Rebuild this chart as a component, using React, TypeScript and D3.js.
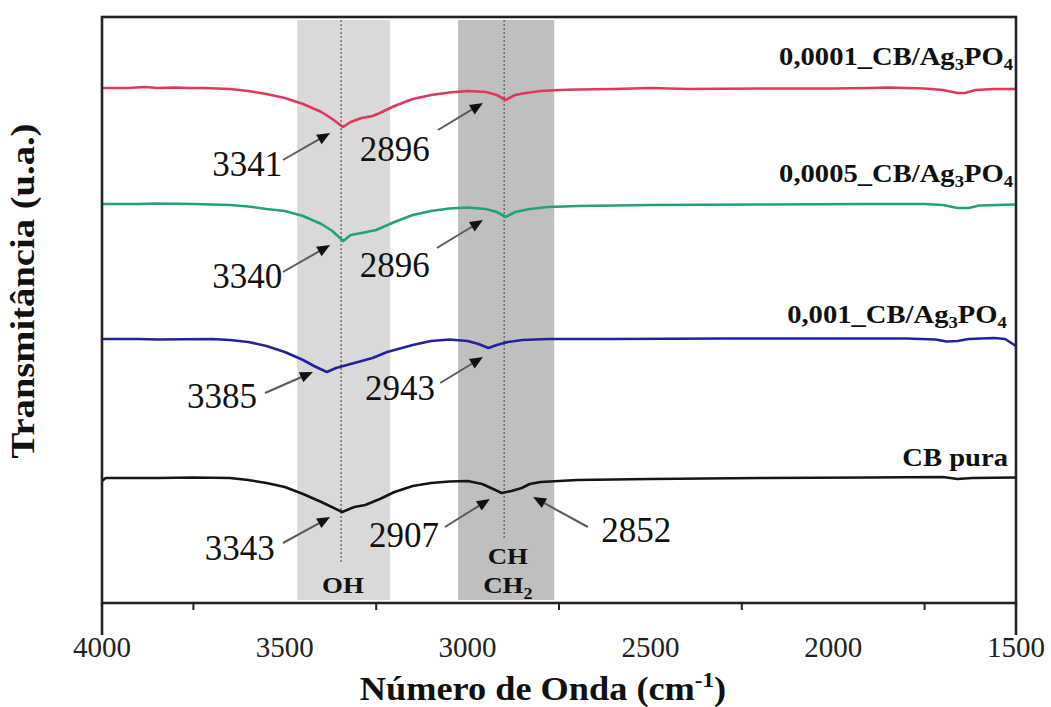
import React from "react";
import * as d3 from "d3";

// ---------- DATA ----------
const xTicksMajor = [4000, 3500, 3000, 2500, 2000, 1500];
const xTicksMinor = [3750, 3250, 2750, 2250, 1750];

// series: wavenumber (cm-1) / transmittance (a.u., offset stacked)
const s1Wn = [4000, 3930, 3880, 3850, 3800, 3760, 3720, 3650, 3600, 3550, 3500, 3450, 3400, 3370, 3341, 3320, 3290, 3260, 3240, 3200, 3150, 3100, 3050, 3000, 2950, 2920, 2896, 2870, 2840, 2800, 2750, 2700, 2600, 2500, 2400, 2200, 2000, 1900, 1850, 1750, 1700, 1660, 1640, 1610, 1560, 1500];
const s1T = [51.5, 51.5, 51.6, 51.5, 51.55, 51.5, 51.5, 51.4, 51.2, 50.9, 50.5, 49.9, 49.1, 48.4, 47.6, 48.1, 48.5, 48.7, 49.0, 49.7, 50.4, 50.8, 51.05, 51.2, 51.1, 50.8, 50.3, 50.8, 51.0, 51.2, 51.3, 51.35, 51.4, 51.5, 51.4, 51.45, 51.45, 51.5, 51.55, 51.45, 51.3, 51.0, 51.0, 51.3, 51.4, 51.4];

const s2Wn = [4000, 3900, 3850, 3750, 3650, 3600, 3550, 3500, 3450, 3400, 3370, 3340, 3320, 3290, 3250, 3200, 3150, 3100, 3050, 3000, 2950, 2920, 2896, 2870, 2830, 2780, 2700, 2500, 2200, 1900, 1750, 1700, 1660, 1630, 1600, 1500];
const s2T = [39.9, 39.9, 39.95, 39.9, 39.8, 39.65, 39.4, 39.2, 38.7, 37.9, 37.2, 36.2, 36.8, 37.0, 37.3, 38.1, 38.8, 39.2, 39.45, 39.55, 39.4, 39.1, 38.6, 39.1, 39.4, 39.6, 39.7, 39.8, 39.85, 39.9, 39.9, 39.8, 39.5, 39.5, 39.75, 39.85];

const s3Wn = [4000, 3900, 3850, 3700, 3650, 3600, 3550, 3500, 3450, 3420, 3385, 3360, 3340, 3300, 3260, 3220, 3150, 3100, 3050, 3000, 2970, 2943, 2920, 2890, 2850, 2780, 2600, 2300, 2000, 1800, 1720, 1690, 1660, 1630, 1560, 1530, 1500];
const s3T = [26.4, 26.4, 26.35, 26.4, 26.3, 26.1, 25.7, 25.1, 24.3, 23.7, 23.1, 23.5, 23.7, 24.1, 24.5, 25.1, 25.8, 26.2, 26.35, 26.2, 25.9, 25.5, 25.8, 26.1, 26.3, 26.4, 26.4, 26.45, 26.45, 26.45, 26.35, 26.15, 26.2, 26.4, 26.5, 26.4, 25.7];

const s4Wn = [4000, 3990, 3850, 3750, 3650, 3600, 3550, 3500, 3450, 3400, 3343, 3310, 3280, 3240, 3200, 3150, 3100, 3050, 3000, 2960, 2930, 2907, 2880, 2852, 2830, 2800, 2700, 2500, 2200, 1900, 1700, 1660, 1620, 1500];
const s4T = [12.2, 12.5, 12.5, 12.55, 12.5, 12.3, 12.0, 11.6, 10.9, 10.1, 9.1, 9.6, 9.8, 10.4, 11.1, 11.7, 12.0, 12.15, 12.2, 11.9, 11.4, 11.0, 11.2, 11.5, 11.9, 12.1, 12.3, 12.4, 12.5, 12.55, 12.6, 12.4, 12.5, 12.55];

const seriesNames = ["0,0001_CB/Ag", "0,0005_CB/Ag", "0,001_CB/Ag", "CB pura"];
const seriesColors = ["#e2375c", "#22a27a", "#22229f", "#151515"];
const seriesLabelWn = [1508, 1508, 1525, 1522];
const seriesLabelT = [53.8, 42.1, 28.0, 13.7];

// shaded bands
const bandNames = ["OH", "CH"];
const bandFrom = [3466, 3026];
const bandTo = [3212, 2763];
const bandColors = ["#d9d9d9", "#bfbfbf"];
const dotWn = [3346, 2900];
const dotEndT = [4.1, 6.3];

// peak annotations
const annText = ["3341", "2896", "3340", "2896", "3385", "2943", "3343", "2907", "2852"];
const annLabelWn = [3603, 3199, 3603, 3199, 3672, 3185, 3623, 3174, 2539];
const annLabelT = [43.9, 45.4, 32.7, 33.8, 20.7, 21.5, 5.5, 6.8, 7.3];
const annTailWn = [3505, 3081, 3505, 3084, 3554, 3075, 3505, 3062, 2671];
const annTailT = [44.3, 47.3, 33.1, 35.5, 21.0, 22.0, 6.0, 7.6, 7.6];
const annTipWn = [3376, 2958, 3376, 2958, 3423, 2958, 3376, 2939, 2821];
const annTipT = [47.0, 50.0, 35.8, 38.3, 23.1, 24.6, 8.6, 10.4, 10.6];

// ---------- CHART ----------
const W = 1051, H = 707;
const L = 102, R = 1016, T = 17, B = 603;
const SERIF = "Liberation Serif, Times New Roman, serif";

export default function App() {
  const x = d3.scaleLinear().domain([4000, 1500]).range([L, R]);
  const y = d3.scaleLinear().domain([0, 58.6]).range([B, T]);
  const line = d3.line<[number, number]>().x(d => x(d[0])).y(d => y(d[1])).curve(d3.curveLinear);

  const series = [
    { wn: s1Wn, t: s1T },
    { wn: s2Wn, t: s2T },
    { wn: s3Wn, t: s3T },
    { wn: s4Wn, t: s4T },
  ];

  const arrowHead = (i: number) => {
    const x1 = x(annTailWn[i]), y1 = y(annTailT[i]);
    const x2 = x(annTipWn[i]), y2 = y(annTipT[i]);
    const a = Math.atan2(y2 - y1, x2 - x1);
    const len = 13, hw = 5.5;
    const bx = x2 - len * Math.cos(a), by = y2 - len * Math.sin(a);
    const p1 = [bx + hw * Math.sin(a), by - hw * Math.cos(a)];
    const p2 = [bx - hw * Math.sin(a), by + hw * Math.cos(a)];
    return { x1, y1, bx, by, pts: `${x2},${y2} ${p1[0]},${p1[1]} ${p2[0]},${p2[1]}` };
  };

  const boldLbl = { fontFamily: SERIF, fontWeight: "bold" as const, fill: "#111" };

  return (
    <svg width={W} height={H} style={{ position: "absolute", left: 0, top: 0, background: "#fff" }}>
      {/* bands */}
      {bandNames.map((n, i) => (
        <rect key={n} x={x(bandFrom[i])} y={20} width={x(bandTo[i]) - x(bandFrom[i])} height={B - 3 - 20} fill={bandColors[i]} />
      ))}
      {/* dotted guide lines */}
      {dotWn.map((w, i) => (
        <line key={i} x1={x(w)} x2={x(w)} y1={20} y2={y(dotEndT[i])} stroke="#555" strokeWidth={1.2} strokeDasharray="2,2" />
      ))}
      {/* band labels */}
      <g transform={`translate(${x(3341)},${y(1.0)}) scale(1.12,1)`}>
        <text textAnchor="middle" fontSize={24} {...boldLbl}>OH</text>
      </g>
      <g transform={`translate(${x(2890)},${y(3.9)}) scale(1.12,1)`}>
        <text textAnchor="middle" fontSize={24} {...boldLbl}>CH</text>
      </g>
      <g transform={`translate(${x(2890)},${y(1.0)}) scale(1.12,1)`}>
        <text textAnchor="middle" fontSize={24} {...boldLbl}>
          CH<tspan fontSize={16} dy={6}>2</tspan>
        </text>
      </g>

      {/* series */}
      {series.map((s, i) => (
        <path key={i} d={line(s.wn.map((w, j) => [w, s.t[j]] as [number, number])) || ""} fill="none" stroke={seriesColors[i]} strokeWidth={2.6} strokeLinejoin="round" />
      ))}

      {/* series labels */}
      {seriesNames.map((n, i) => (
        <g key={n} transform={`translate(${x(seriesLabelWn[i])},${y(seriesLabelT[i])}) scale(1.1,1)`}>
          <text textAnchor="end" fontSize={26} {...boldLbl}>
            {i < 3 ? (
              <>
                {n}
                <tspan fontSize={17} dy={5}>3</tspan>
                <tspan dy={-5}>PO</tspan>
                <tspan fontSize={17} dy={5}>4</tspan>
              </>
            ) : n}
          </text>
        </g>
      ))}

      {/* annotations */}
      {annText.map((t, i) => {
        const h = arrowHead(i);
        return (
          <g key={i}>
            <line x1={h.x1} y1={h.y1} x2={h.bx} y2={h.by} stroke="#5a5a5a" strokeWidth={2} />
            <polygon points={h.pts} fill="#111" />
            <text x={x(annLabelWn[i])} y={y(annLabelT[i])} dy="0.35em" textAnchor="middle" fontFamily={SERIF} fontSize={35} fill="#111">{t}</text>
          </g>
        );
      })}

      {/* frame */}
      <rect x={L} y={T} width={R - L} height={B - T} fill="none" stroke="#222" strokeWidth={2.6} />

      {/* x axis ticks */}
      {xTicksMinor.map(v => (
        <line key={v} x1={x(v)} x2={x(v)} y1={B} y2={B + 7} stroke="#222" strokeWidth={2} />
      ))}
      {[4000, 1500].map(v => (
        <line key={v} x1={x(v)} x2={x(v)} y1={B} y2={B + 32} stroke="#222" strokeWidth={2.6} />
      ))}
      {xTicksMajor.map(v => (
        <text key={v} x={x(v)} y={657} textAnchor="middle" fontFamily={SERIF} fontSize={29} fill="#222">{v}</text>
      ))}

      {/* axis titles */}
      <g transform="translate(543,700) scale(1.1,1)">
        <text textAnchor="middle" fontSize={33} {...boldLbl}>
          Número de Onda (cm<tspan fontSize={21} dy={-13}>-1</tspan><tspan dy={13}>)</tspan>
        </text>
      </g>
      <g transform="translate(34,291) rotate(-90) scale(1.17,1)">
        <text textAnchor="middle" fontSize={33} {...boldLbl}>Transmitância (u.a.)</text>
      </g>
    </svg>
  );
}
